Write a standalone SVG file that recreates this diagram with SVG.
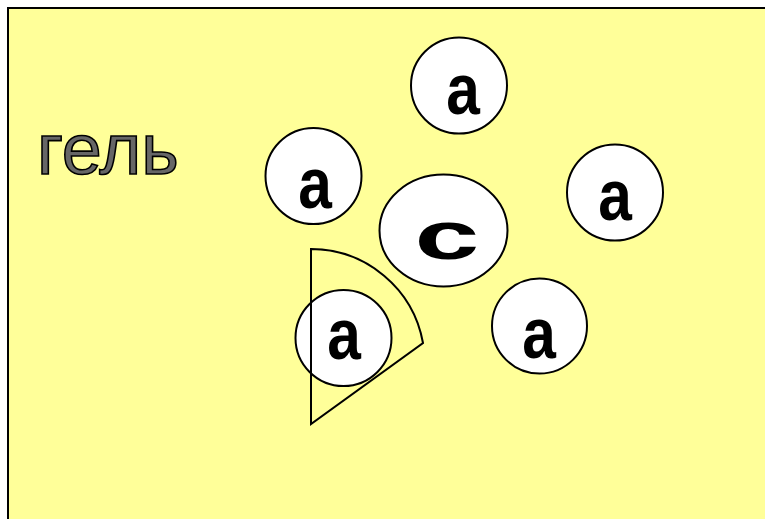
<svg xmlns="http://www.w3.org/2000/svg" width="765" height="519" viewBox="0 0 765 519">
  <style>
    .bubble { fill: #ffffff; stroke: #000000; stroke-width: 2; }
    .lbl { font-family: "Liberation Sans", Arial, sans-serif; font-weight: bold; font-size: 72px; fill: #000000; text-anchor: middle; }
    .gel { font-family: "Liberation Sans", Arial, sans-serif; font-size: 72px; fill: #666666; stroke: #000000; stroke-width: 1.6; }
    .sector { fill: none; stroke: #000000; stroke-width: 2; stroke-linejoin: miter; }
  </style>

  <!-- page background and gel panel -->
  <rect x="0" y="0" width="765" height="519" fill="#ffffff"/>
  <rect x="8" y="8" width="800" height="600" fill="#ffff99" stroke="#000000" stroke-width="2"/>

  <g id="gel-label">
    <text class="gel" x="37" y="174">гель</text>
  </g>

  <g id="a-top">
    <circle class="bubble" cx="459" cy="85.5" r="48"/>
    <text class="lbl" transform="translate(463 114) scale(0.84 1)">а</text>
  </g>

  <g id="a-left">
    <circle class="bubble" cx="313.5" cy="176" r="48"/>
    <text class="lbl" transform="translate(315 208) scale(0.84 1)">а</text>
  </g>

  <g id="a-right">
    <circle class="bubble" cx="615" cy="192.5" r="48"/>
    <text class="lbl" transform="translate(615 220) scale(0.84 1)">а</text>
  </g>

  <g id="c-center">
    <ellipse class="bubble" cx="443.5" cy="230.5" rx="64" ry="56"/>
    <text class="lbl" transform="translate(447 259) scale(1.62 0.94)">с</text>
  </g>

  <g id="a-bottom-right">
    <circle class="bubble" cx="539.5" cy="326" r="47.5"/>
    <text class="lbl" transform="translate(539 358) scale(0.84 1)">а</text>
  </g>

  <g id="a-bottom-left">
    <circle class="bubble" cx="343.5" cy="338" r="48"/>
    <text class="lbl" transform="translate(344 359) scale(0.84 1)">а</text>
  </g>

  <!-- sector outline drawn over the lower-left particle -->
  <g id="sector">
    <path class="sector" d="M311 424 L311 249 A114 114 0 0 1 423 343 Z"/>
  </g>
</svg>
